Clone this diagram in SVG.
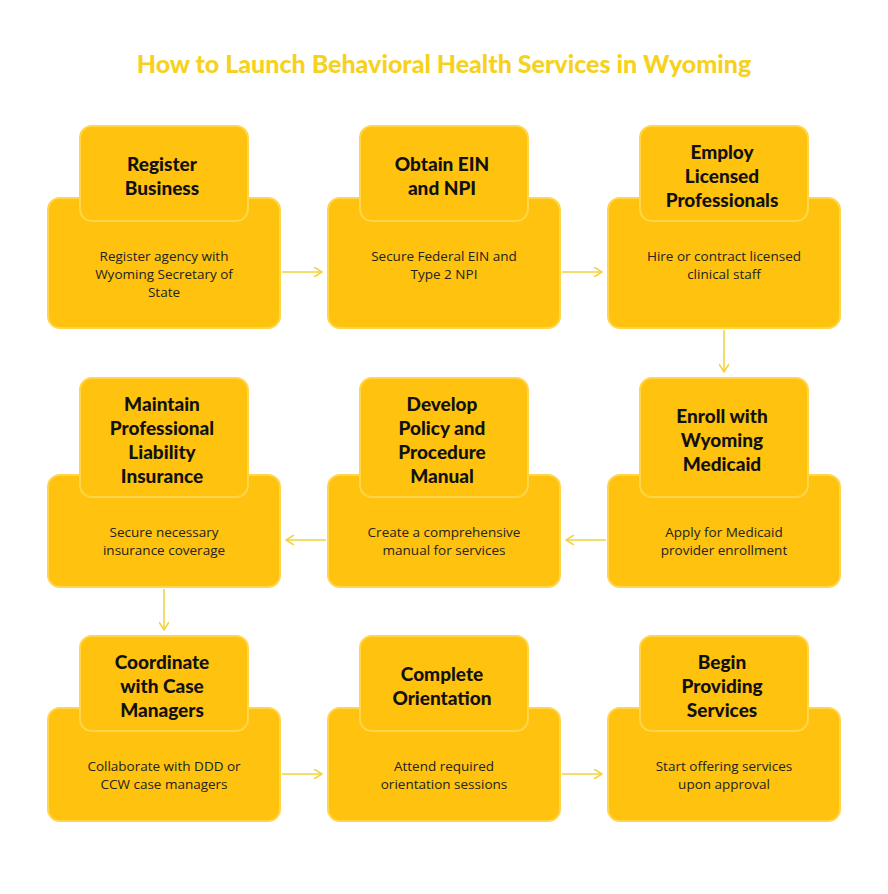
<svg xmlns="http://www.w3.org/2000/svg" width="888" height="894" viewBox="0 0 888 894">
<defs>
<marker id="ah" viewBox="0 0 10 10" refX="9" refY="5" markerWidth="10" markerHeight="10" markerUnits="userSpaceOnUse" orient="auto"><path d="M1,0 L9,5 L1,10" fill="none" stroke="#F2D23C" stroke-width="1.5"/></marker>
<style>
.b{fill:#FFC20E;stroke:#FFD54A;stroke-width:2}
.h{font-family:"Lato","Open Sans",sans-serif;font-weight:900;font-size:19px;fill:#111;text-anchor:middle}
.d{font-family:"Open Sans","Lato",sans-serif;font-size:13.5px;fill:#222;text-anchor:middle}
.c{stroke:#F2D23C;stroke-width:1.5;fill:none;marker-end:url(#ah)}
</style>
</defs>
<rect width="888" height="894" fill="#fff"/>
<text x="444" y="73" text-anchor="middle" font-family="Lato,sans-serif" font-weight="900" font-size="25" fill="#F6D21E">How to Launch Behavioral Health Services in Wyoming</text>
<g id="connectors">
<path class="c" d="M282,272 H322"/>
<path class="c" d="M562,272 H602"/>
<path class="c" d="M724,330 V372"/>
<path class="c" d="M606,540 H566"/>
<path class="c" d="M326,540 H286"/>
<path class="c" d="M164,589 V630"/>
<path class="c" d="M282,774 H322"/>
<path class="c" d="M562,774 H602"/>
</g>
<g id="n1"><rect class="b" x="48" y="198" width="232" height="130" rx="12"/><rect class="b" x="80" y="126" width="168" height="95" rx="12"/>
<text class="h" x="162" y="171">Register</text><text class="h" x="162" y="195">Business</text>
<text class="d" x="164" y="261">Register agency with</text><text class="d" x="164" y="279">Wyoming Secretary of</text><text class="d" x="164" y="297">State</text></g>
<g id="n2"><rect class="b" x="328" y="198" width="232" height="130" rx="12"/><rect class="b" x="360" y="126" width="168" height="95" rx="12"/>
<text class="h" x="442" y="171">Obtain EIN</text><text class="h" x="442" y="195">and NPI</text>
<text class="d" x="444" y="261">Secure Federal EIN and</text><text class="d" x="444" y="279">Type 2 NPI</text></g>
<g id="n3"><rect class="b" x="608" y="198" width="232" height="130" rx="12"/><rect class="b" x="640" y="126" width="168" height="95" rx="12"/>
<text class="h" x="722" y="159">Employ</text><text class="h" x="722" y="183">Licensed</text><text class="h" x="722" y="207">Professionals</text>
<text class="d" x="724" y="261">Hire or contract licensed</text><text class="d" x="724" y="279">clinical staff</text></g>
<g id="n4"><rect class="b" x="608" y="475" width="232" height="112" rx="12"/><rect class="b" x="640" y="378" width="168" height="119" rx="12"/>
<text class="h" x="722" y="423">Enroll with</text><text class="h" x="722" y="447">Wyoming</text><text class="h" x="722" y="471">Medicaid</text>
<text class="d" x="724" y="537">Apply for Medicaid</text><text class="d" x="724" y="555">provider enrollment</text></g>
<g id="n5"><rect class="b" x="328" y="475" width="232" height="112" rx="12"/><rect class="b" x="360" y="378" width="168" height="119" rx="12"/>
<text class="h" x="442" y="411">Develop</text><text class="h" x="442" y="435">Policy and</text><text class="h" x="442" y="459">Procedure</text><text class="h" x="442" y="483">Manual</text>
<text class="d" x="444" y="537">Create a comprehensive</text><text class="d" x="444" y="555">manual for services</text></g>
<g id="n6"><rect class="b" x="48" y="475" width="232" height="112" rx="12"/><rect class="b" x="80" y="378" width="168" height="119" rx="12"/>
<text class="h" x="162" y="411">Maintain</text><text class="h" x="162" y="435">Professional</text><text class="h" x="162" y="459">Liability</text><text class="h" x="162" y="483">Insurance</text>
<text class="d" x="164" y="537">Secure necessary</text><text class="d" x="164" y="555">insurance coverage</text></g>
<g id="n7"><rect class="b" x="48" y="708" width="232" height="113" rx="12"/><rect class="b" x="80" y="636" width="168" height="95" rx="12"/>
<text class="h" x="162" y="669">Coordinate</text><text class="h" x="162" y="693">with Case</text><text class="h" x="162" y="717">Managers</text>
<text class="d" x="164" y="771">Collaborate with DDD or</text><text class="d" x="164" y="789">CCW case managers</text></g>
<g id="n8"><rect class="b" x="328" y="708" width="232" height="113" rx="12"/><rect class="b" x="360" y="636" width="168" height="95" rx="12"/>
<text class="h" x="442" y="681">Complete</text><text class="h" x="442" y="705">Orientation</text>
<text class="d" x="444" y="771">Attend required</text><text class="d" x="444" y="789">orientation sessions</text></g>
<g id="n9"><rect class="b" x="608" y="708" width="232" height="113" rx="12"/><rect class="b" x="640" y="636" width="168" height="95" rx="12"/>
<text class="h" x="722" y="669">Begin</text><text class="h" x="722" y="693">Providing</text><text class="h" x="722" y="717">Services</text>
<text class="d" x="724" y="771">Start offering services</text><text class="d" x="724" y="789">upon approval</text></g>
</svg>
